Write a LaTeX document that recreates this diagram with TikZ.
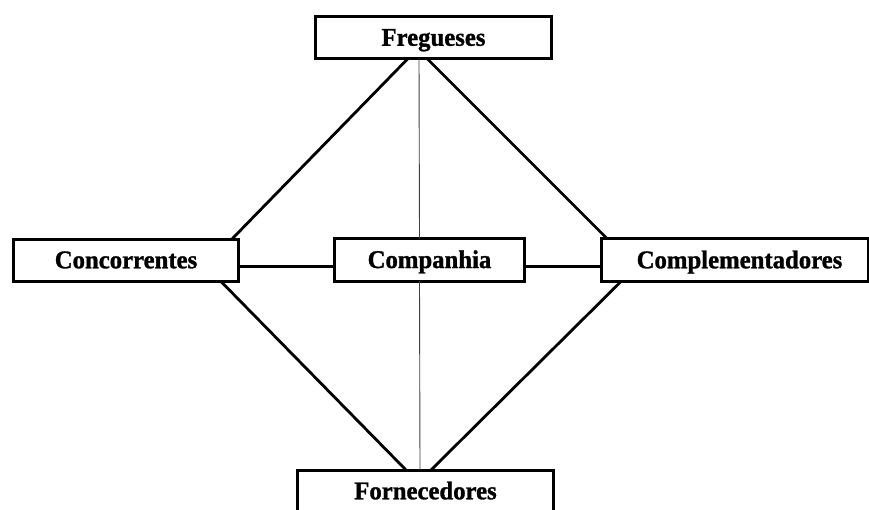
\documentclass[tikz,border=0pt]{standalone}
\usepackage{fontspec}
\setmainfont{Liberation Serif}
\newfontfamily\lblfont[FakeBold=1.2,FakeStretch=0.97]{Liberation Serif Bold}
\usetikzlibrary{calc}
\begin{document}
\begin{tikzpicture}[x=1pt,y=-1pt,
  box/.style={draw=black,line width=3pt,fill=white,inner sep=0pt,outer sep=0pt,
    font=\lblfont\fontsize{25.5}{28}\selectfont,text height=16.5pt,text depth=0pt},
  link/.style={draw=black,line width=2.8pt},
  thin/.style={draw=black!75,line width=0.9pt}]
\useasboundingbox (0,0) rectangle (869,509);
\fill[white] (0,0) rectangle (869,509);
\node[box,minimum width=236pt,minimum height=42pt] (freg) at (433.5,37.5) {Fregueses};
\node[box,minimum width=225pt,minimum height=42pt] (conc) at (126,260) {Concorrentes};
\node[box,minimum width=190pt,minimum height=42.5pt] (comp) at (429.5,259.75) {Companhia};
\node[box,minimum width=267pt,minimum height=43pt] (compl) at (734.5,260) {\hspace*{10pt}Complementadores};
\node[box,minimum width=256pt,minimum height=42pt] (forn) at (425.5,491) {Fornecedores};
% diagonals
\draw[link] ($(freg.south)+(-25.5,0)$) -- ($(conc.north east)+(-6.5,0)$);
\draw[link] ($(freg.south)+(-6.5,0)$) -- ($(compl.north west)+(6,0)$);
\draw[link] ($(conc.south east)+(-18,0)$) -- ($(forn.north)+(-19.5,0)$);
\draw[link] ($(compl.south west)+(20,0)$) -- ($(forn.north)+(5.5,0)$);
% horizontals
\coordinate (hl) at ($(conc.east)+(0,6.5)$);
\coordinate (hr) at ($(comp.east)+(0,6.5)$);
\draw[link] (hl) -- (hl -| comp.west);
\draw[link] (hr) -- (hr -| compl.west);
% thin vertical
\draw[thin] ($(freg.south)+(-14.5,0)$) -- ($(comp.north)+(-10,0)$);
\draw[thin] ($(comp.south)+(-10,0)$) -- ($(forn.north)+(-5.5,0)$);
\end{tikzpicture}
\end{document}
